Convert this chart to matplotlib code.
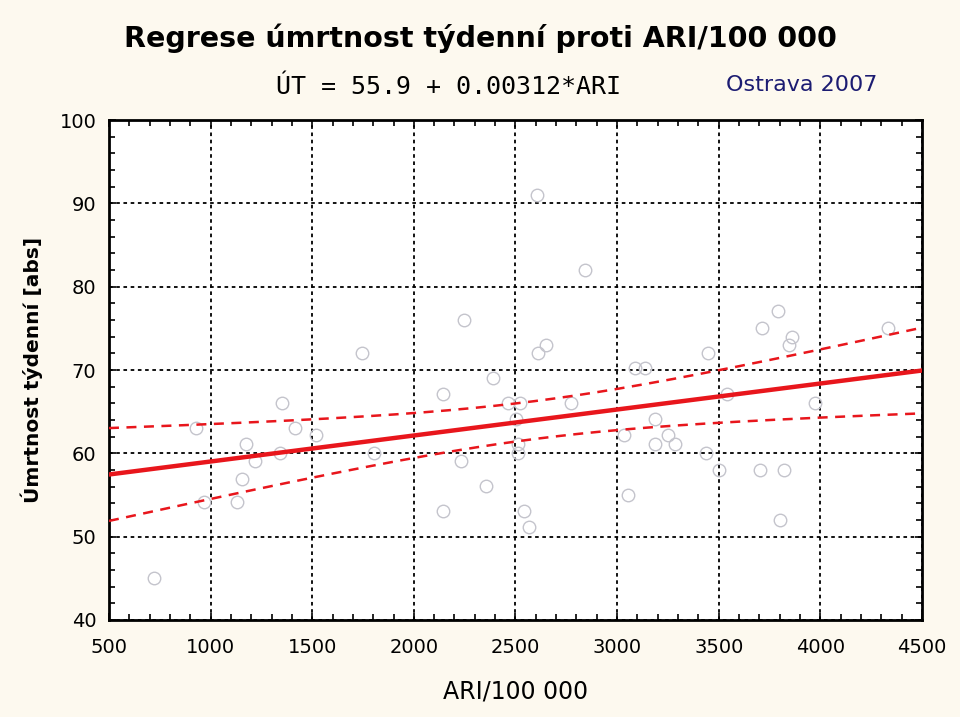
"""Regrese úmrtnost týdenní proti ARI/100 000 - Ostrava 2007"""
import numpy as np
import matplotlib
matplotlib.use("Agg")
import matplotlib.pyplot as plt
from matplotlib.ticker import MultipleLocator

# ARI/100 000
ari = [723, 926, 969, 1130, 1156, 1174, 1218, 1341, 1351, 1415, 1520,
       1743, 1804, 2141, 2141, 2230, 2248, 2353, 2390, 2461, 2505, 2514,
       2514, 2522, 2540, 2568, 2606, 2612, 2648, 2771, 2843, 3036, 3056,
       3089, 3135, 3187, 3187, 3251, 3286, 3438, 3445, 3499, 3543, 3704,
       3713, 3793, 3802, 3819, 3844, 3862, 3976, 4331]
# úmrtnost týdenní [abs]
umrtnost = [45.0, 63.0, 54.1, 54.1, 56.9, 61.1, 59.1, 60.0, 66.0, 63.0, 62.2,
            72.1, 60.0, 67.1, 53.1, 59.1, 76.0, 56.1, 69.1, 66.0, 64.1, 61.1,
            60.0, 66.0, 53.1, 51.1, 91.0, 72.1, 73.0, 66.0, 82.0, 62.2, 55.0,
            70.2, 70.2, 64.1, 61.1, 62.2, 61.1, 60.0, 72.1, 58.0, 67.1, 58.0,
            75.1, 77.1, 52.0, 58.0, 73.0, 74.0, 66.0, 75.1]

INTERCEPT = 55.9
SLOPE = 0.00312
X_TICKS = [500, 1000, 1500, 2000, 2500, 3000, 3500, 4000, 4500]
Y_TICKS = [40, 50, 60, 70, 80, 90, 100]

BG = "#fdf9ef"
RED = "#e8161c"

x = np.array(ari, dtype=float)
y = np.array(umrtnost, dtype=float)

# interval spolehlivosti 95 % pro regresní přímku
n = len(x)
resid = y - (INTERCEPT + SLOPE * x)
s = np.sqrt(np.sum(resid ** 2) / (n - 2))
sxx = np.sum((x - x.mean()) ** 2)
xx = np.linspace(X_TICKS[0], X_TICKS[-1], 200)
yy = INTERCEPT + SLOPE * xx
half = 2.007 * s * np.sqrt(1 / n + (xx - x.mean()) ** 2 / sxx)

fig = plt.figure(figsize=(9.6, 7.17), dpi=100, facecolor=BG)
ax = fig.add_axes([0.1135, 0.1353, 0.8469, 0.6973])
ax.set_facecolor("white")

ax.plot(x, y, "o", ms=9, mfc="none", mec="#c4c4cc", mew=1.0, zorder=3)
ax.plot(xx, yy, color=RED, lw=3.2, zorder=4)
ax.plot(xx, yy + half, color=RED, lw=1.8, ls=(0, (4, 3)), zorder=4)
ax.plot(xx, yy - half, color=RED, lw=1.8, ls=(0, (4, 3)), zorder=4)

ax.set_xlim(X_TICKS[0], X_TICKS[-1])
ax.set_ylim(Y_TICKS[0], Y_TICKS[-1])
ax.set_xticks(X_TICKS)
ax.set_yticks(Y_TICKS)
ax.xaxis.set_minor_locator(MultipleLocator(100))
ax.yaxis.set_minor_locator(MultipleLocator(2))
ax.tick_params(which="both", direction="in", top=True, right=True,
               labelsize=14, width=1.2)
ax.tick_params(which="major", length=5, pad=9)
ax.tick_params(axis="x", which="major", pad=13)
ax.tick_params(which="minor", length=4)
ax.grid(True, which="major", color="black", ls=(0, (2, 2)), lw=1.3, zorder=1)
for side in ax.spines.values():
    side.set_linewidth(2)

ax.set_xlabel("ARI/100 000", fontsize=17, labelpad=16)
ax.set_ylabel("Úmrtnost týdenní [abs]", fontsize=14.5, fontweight="bold",
              labelpad=12)

fig.text(0.5, 0.947, "Regrese úmrtnost týdenní proti ARI/100 000",
         ha="center", va="center", fontsize=20.5, fontweight="bold")
fig.text(0.467, 0.878, "ÚT = 55.9 + 0.00312*ARI", ha="center", va="center",
         fontsize=18, family="DejaVu Sans Mono")
fig.text(0.835, 0.882, "Ostrava 2007", ha="center", va="center",
         fontsize=16, color="#1c1c72")

fig.savefig("out.png", dpi=100, facecolor=BG)
